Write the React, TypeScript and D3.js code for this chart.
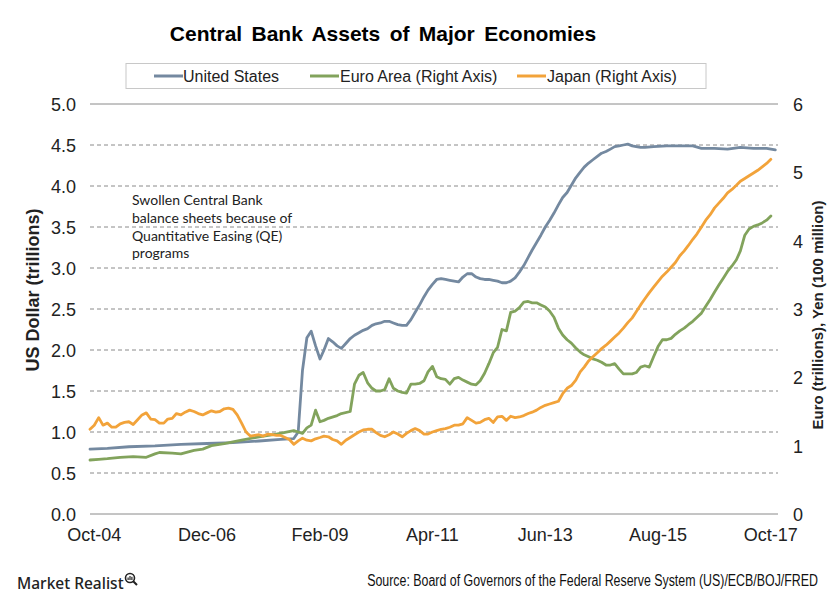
import React from "react";
import * as d3 from "d3";

const TITLE = "Central Bank Assets of Major Economies";
const SERIES_NAMES = ["United States", "Euro Area (Right Axis)", "Japan (Right Axis)"];
const SERIES_COLORS = ["#7489a0", "#82a35c", "#f2a33a"];
const LEFT_TICKS = [0, 0.5, 1, 1.5, 2, 2.5, 3, 3.5, 4, 4.5, 5];
const RIGHT_TICKS = [0, 1, 2, 3, 4, 5, 6];
const X_TICK_DATES = ["2004-10", "2006-12", "2009-02", "2011-04", "2013-06", "2015-08", "2017-10"];
const LEFT_TITLE = "US Dollar (trillions)";
const RIGHT_TITLE = "Euro (trillions), Yen (100 million)";
const NOTE_LINES = ["Swollen Central Bank", "balance sheets because of", "Quantitative Easing (QE)", "programs"];
const SOURCE = "Source: Board of Governors of the Federal Reserve System (US)/ECB/BOJ/FRED";
const BRAND = "Market Realist";

// United States (left axis, USD trillions)
const US: [string, number][] = [
  ["2004-09", 0.79], ["2005-01", 0.8], ["2005-06", 0.82], ["2005-12", 0.83], ["2006-06", 0.85],
  ["2006-12", 0.86], ["2007-06", 0.87], ["2007-12", 0.89], ["2008-05", 0.91], ["2008-08", 0.92],
  ["2008-09", 1.0], ["2008-10", 1.75], ["2008-11", 2.15], ["2008-12", 2.23], ["2009-01", 2.05],
  ["2009-02", 1.89], ["2009-03", 2.0], ["2009-04", 2.14], ["2009-05", 2.1], ["2009-06", 2.05],
  ["2009-07", 2.02], ["2009-08", 2.08], ["2009-09", 2.14], ["2009-10", 2.18], ["2009-11", 2.21],
  ["2009-12", 2.24], ["2010-01", 2.26], ["2010-02", 2.3], ["2010-03", 2.32], ["2010-04", 2.33],
  ["2010-05", 2.35], ["2010-06", 2.35], ["2010-07", 2.33], ["2010-08", 2.31], ["2010-09", 2.3],
  ["2010-10", 2.3], ["2010-11", 2.37], ["2010-12", 2.46], ["2011-01", 2.55], ["2011-02", 2.65],
  ["2011-03", 2.73], ["2011-04", 2.8], ["2011-05", 2.86], ["2011-06", 2.87], ["2011-07", 2.86],
  ["2011-08", 2.85], ["2011-09", 2.84], ["2011-10", 2.83], ["2011-11", 2.89], ["2011-12", 2.93],
  ["2012-01", 2.93], ["2012-02", 2.89], ["2012-03", 2.87], ["2012-04", 2.86], ["2012-05", 2.86],
  ["2012-06", 2.85], ["2012-07", 2.84], ["2012-08", 2.82], ["2012-09", 2.82], ["2012-10", 2.84],
  ["2012-11", 2.88], ["2012-12", 2.95], ["2013-01", 3.03], ["2013-02", 3.13], ["2013-03", 3.22],
  ["2013-04", 3.31], ["2013-05", 3.4], ["2013-06", 3.5], ["2013-07", 3.58], ["2013-08", 3.67],
  ["2013-09", 3.77], ["2013-10", 3.86], ["2013-11", 3.92], ["2013-12", 4.01], ["2014-01", 4.1],
  ["2014-02", 4.17], ["2014-03", 4.23], ["2014-04", 4.28], ["2014-05", 4.32], ["2014-06", 4.36],
  ["2014-07", 4.4], ["2014-08", 4.42], ["2014-09", 4.45], ["2014-10", 4.48], ["2014-11", 4.49],
  ["2014-12", 4.5], ["2015-01", 4.51], ["2015-02", 4.49], ["2015-03", 4.48], ["2015-04", 4.47],
  ["2015-05", 4.47], ["2015-07", 4.48], ["2015-10", 4.49], ["2016-01", 4.49], ["2016-04", 4.49],
  ["2016-06", 4.46], ["2016-09", 4.46], ["2016-12", 4.45], ["2017-03", 4.47], ["2017-06", 4.46],
  ["2017-09", 4.46], ["2017-11", 4.44],
];

// Euro Area (right axis, EUR trillions)
const EURO: [string, number][] = [
  ["2004-09", 0.79], ["2004-11", 0.8], ["2005-01", 0.81], ["2005-04", 0.83], ["2005-07", 0.84],
  ["2005-10", 0.83], ["2005-12", 0.88], ["2006-01", 0.9], ["2006-04", 0.89], ["2006-06", 0.88],
  ["2006-09", 0.93], ["2006-11", 0.95], ["2007-01", 1.0], ["2007-04", 1.03], ["2007-08", 1.08],
  ["2007-12", 1.13], ["2008-04", 1.17], ["2008-08", 1.22], ["2008-09", 1.2], ["2008-10", 1.18],
  ["2008-11", 1.26], ["2008-12", 1.3], ["2009-01", 1.52], ["2009-02", 1.35], ["2009-03", 1.37],
  ["2009-04", 1.4], ["2009-06", 1.44], ["2009-07", 1.47], ["2009-09", 1.5], ["2009-10", 1.9],
  ["2009-11", 2.03], ["2009-12", 2.07], ["2010-01", 1.92], ["2010-02", 1.84], ["2010-03", 1.8],
  ["2010-04", 1.8], ["2010-05", 1.82], ["2010-06", 1.98], ["2010-07", 1.84], ["2010-08", 1.8],
  ["2010-09", 1.78], ["2010-10", 1.77], ["2010-11", 1.9], ["2010-12", 1.9], ["2011-01", 1.91],
  ["2011-02", 1.95], ["2011-03", 2.08], ["2011-04", 2.16], ["2011-05", 2.01], ["2011-06", 1.98],
  ["2011-07", 1.97], ["2011-08", 1.9], ["2011-09", 1.98], ["2011-10", 2.0], ["2011-11", 1.96],
  ["2011-12", 1.93], ["2012-01", 1.9], ["2012-02", 1.89], ["2012-03", 1.95], ["2012-04", 2.06],
  ["2012-05", 2.2], ["2012-06", 2.36], ["2012-07", 2.44], ["2012-08", 2.7], ["2012-09", 2.68],
  ["2012-10", 2.95], ["2012-11", 2.97], ["2012-12", 3.02], ["2013-01", 3.1], ["2013-02", 3.11],
  ["2013-03", 3.09], ["2013-04", 3.09], ["2013-05", 3.06], ["2013-06", 3.03], ["2013-07", 2.97],
  ["2013-08", 2.88], ["2013-09", 2.72], ["2013-10", 2.62], ["2013-11", 2.55], ["2013-12", 2.5],
  ["2014-01", 2.43], ["2014-02", 2.37], ["2014-03", 2.33], ["2014-04", 2.3], ["2014-05", 2.27],
  ["2014-06", 2.25], ["2014-07", 2.22], ["2014-08", 2.18], ["2014-09", 2.18], ["2014-10", 2.2],
  ["2014-11", 2.12], ["2014-12", 2.05], ["2015-01", 2.05], ["2015-02", 2.05], ["2015-03", 2.07],
  ["2015-04", 2.15], ["2015-05", 2.17], ["2015-06", 2.15], ["2015-07", 2.3], ["2015-08", 2.45],
  ["2015-09", 2.55], ["2015-10", 2.55], ["2015-11", 2.57], ["2015-12", 2.63], ["2016-01", 2.68],
  ["2016-02", 2.72], ["2016-03", 2.77], ["2016-04", 2.82], ["2016-05", 2.88], ["2016-06", 2.94],
  ["2016-07", 3.04], ["2016-08", 3.14], ["2016-09", 3.25], ["2016-10", 3.35], ["2016-11", 3.45],
  ["2016-12", 3.55], ["2017-01", 3.63], ["2017-02", 3.72], ["2017-03", 3.85], ["2017-04", 4.08],
  ["2017-05", 4.17], ["2017-06", 4.21], ["2017-07", 4.23], ["2017-08", 4.26], ["2017-09", 4.3],
  ["2017-10", 4.36],
];

// Japan (right axis)
const JAPAN: [string, number][] = [
  ["2004-09", 1.24], ["2004-10", 1.3], ["2004-11", 1.41], ["2004-12", 1.3], ["2005-01", 1.33],
  ["2005-02", 1.27], ["2005-03", 1.27], ["2005-04", 1.32], ["2005-05", 1.34], ["2005-06", 1.35],
  ["2005-07", 1.31], ["2005-08", 1.38], ["2005-09", 1.45], ["2005-10", 1.48], ["2005-11", 1.39],
  ["2005-12", 1.38], ["2006-01", 1.33], ["2006-02", 1.33], ["2006-03", 1.39], ["2006-04", 1.4],
  ["2006-05", 1.47], ["2006-06", 1.45], ["2006-07", 1.49], ["2006-08", 1.52], ["2006-09", 1.5],
  ["2006-10", 1.47], ["2006-11", 1.45], ["2006-12", 1.48], ["2007-01", 1.51], ["2007-02", 1.49],
  ["2007-03", 1.5], ["2007-04", 1.54], ["2007-05", 1.55], ["2007-06", 1.53], ["2007-07", 1.45],
  ["2007-08", 1.33], ["2007-09", 1.2], ["2007-10", 1.14], ["2007-11", 1.15], ["2007-12", 1.16],
  ["2008-01", 1.14], ["2008-02", 1.17], ["2008-03", 1.16], ["2008-04", 1.15], ["2008-05", 1.15],
  ["2008-06", 1.12], ["2008-07", 1.09], ["2008-08", 1.02], ["2008-09", 1.07], ["2008-10", 1.11],
  ["2008-11", 1.08], ["2008-12", 1.07], ["2009-01", 1.1], ["2009-02", 1.12], ["2009-03", 1.14],
  ["2009-04", 1.13], ["2009-05", 1.09], ["2009-06", 1.07], ["2009-07", 1.02], ["2009-08", 1.08],
  ["2009-09", 1.12], ["2009-10", 1.16], ["2009-11", 1.2], ["2009-12", 1.23], ["2010-01", 1.24],
  ["2010-02", 1.24], ["2010-03", 1.19], ["2010-04", 1.15], ["2010-05", 1.13], ["2010-06", 1.16],
  ["2010-07", 1.2], ["2010-08", 1.17], ["2010-09", 1.13], ["2010-10", 1.18], ["2010-11", 1.22],
  ["2010-12", 1.25], ["2011-01", 1.22], ["2011-02", 1.17], ["2011-03", 1.17], ["2011-04", 1.2],
  ["2011-05", 1.22], ["2011-06", 1.24], ["2011-07", 1.25], ["2011-08", 1.27], ["2011-09", 1.3],
  ["2011-10", 1.3], ["2011-11", 1.32], ["2011-12", 1.41], ["2012-01", 1.37], ["2012-02", 1.33],
  ["2012-03", 1.34], ["2012-04", 1.38], ["2012-05", 1.4], ["2012-06", 1.34], ["2012-07", 1.42],
  ["2012-08", 1.43], ["2012-09", 1.37], ["2012-10", 1.43], ["2012-11", 1.41], ["2012-12", 1.42],
  ["2013-01", 1.44], ["2013-02", 1.47], ["2013-03", 1.49], ["2013-04", 1.52], ["2013-05", 1.56],
  ["2013-06", 1.59], ["2013-07", 1.61], ["2013-08", 1.63], ["2013-09", 1.65], ["2013-10", 1.76],
  ["2013-11", 1.84], ["2013-12", 1.88], ["2014-01", 1.96], ["2014-02", 2.08], ["2014-03", 2.15],
  ["2014-04", 2.24], ["2014-05", 2.3], ["2014-06", 2.36], ["2014-07", 2.42], ["2014-08", 2.47],
  ["2014-09", 2.53], ["2014-10", 2.59], ["2014-11", 2.65], ["2014-12", 2.72], ["2015-01", 2.8],
  ["2015-02", 2.87], ["2015-03", 2.96], ["2015-04", 3.06], ["2015-05", 3.15], ["2015-06", 3.24],
  ["2015-07", 3.32], ["2015-08", 3.4], ["2015-09", 3.48], ["2015-10", 3.54], ["2015-11", 3.61],
  ["2015-12", 3.68], ["2016-01", 3.78], ["2016-02", 3.85], ["2016-03", 3.93], ["2016-04", 4.02],
  ["2016-05", 4.1], ["2016-06", 4.2], ["2016-07", 4.3], ["2016-08", 4.38], ["2016-09", 4.48],
  ["2016-10", 4.55], ["2016-11", 4.62], ["2016-12", 4.7], ["2017-01", 4.75], ["2017-02", 4.81],
  ["2017-03", 4.87], ["2017-04", 4.91], ["2017-05", 4.95], ["2017-06", 4.99], ["2017-07", 5.03],
  ["2017-08", 5.08], ["2017-09", 5.13], ["2017-10", 5.19],
];

const parseMonth = d3.timeParse("%Y-%m");
const parseDay = d3.timeParse("%Y-%m-%d");
const fmtTick = d3.timeFormat("%b-%y");

export default function App() {
  const W = 840, H = 600;
  const left = 90, right = 778, top = 104, bottom = 514;
  const x = d3.scaleTime()
    .domain([parseDay("2004-09-01") as Date, parseDay("2017-11-20") as Date])
    .range([left, right]);
  const yL = d3.scaleLinear().domain([0, 5]).range([bottom, top]);
  const yR = d3.scaleLinear().domain([0, 6]).range([bottom, top]);

  const mkLine = (ys: d3.ScaleLinear<number, number>) =>
    d3.line<[string, number]>()
      .x((d) => x(parseMonth(d[0]) as Date))
      .y((d) => ys(d[1]));

  const series = [
    { data: US, y: yL, color: SERIES_COLORS[0] },
    { data: EURO, y: yR, color: SERIES_COLORS[1] },
    { data: JAPAN, y: yR, color: SERIES_COLORS[2] },
  ];

  const legendItems = [
    { lx: 154, tx: 183 },
    { lx: 310, tx: 340 },
    { lx: 517, tx: 547 },
  ];

  const sans = "'Liberation Sans', Arial, sans-serif";
  const gridColor = "#8a8a8a";

  return (
    <svg width={W} height={H} style={{ position: "absolute", left: 0, top: 0, background: "#fff" }}>
      <rect x={0} y={0} width={W} height={H} fill="#fff" />
      <text x={383} y={41} textAnchor="middle" fontFamily={sans} fontWeight="bold" fontSize={21} wordSpacing={3.5} fill="#000">
        {TITLE}
      </text>

      {/* legend */}
      <rect x={126} y={63.5} width={580} height={25} fill="#fff" stroke="#c8c8c8" strokeWidth={1} />
      {SERIES_NAMES.map((name, i) => (
        <g key={name}>
          <line x1={legendItems[i].lx} x2={legendItems[i].lx + 29} y1={76} y2={76} stroke={SERIES_COLORS[i]} strokeWidth={3} />
          <text x={legendItems[i].tx} y={81.5} fontFamily={sans} fontSize={16} fill="#222">{name}</text>
        </g>
      ))}

      {/* gridlines */}
      {LEFT_TICKS.map((t) => (
        <line key={"g" + t} x1={left} x2={right} y1={yL(t)} y2={yL(t)}
          stroke={gridColor} strokeWidth={1}
          strokeDasharray={t === 0 || t === 5 ? undefined : "4 3"} />
      ))}

      {/* left tick labels */}
      {LEFT_TICKS.map((t) => (
        <text key={"l" + t} x={76} y={yL(t) + 7} textAnchor="end" fontFamily={sans} fontSize={18} fill="#222">
          {d3.format(".1f")(t)}
        </text>
      ))}
      {/* right tick labels */}
      {RIGHT_TICKS.map((t) => (
        <text key={"r" + t} x={793} y={yR(t) + 7} textAnchor="start" fontFamily={sans} fontSize={18} fill="#222">
          {t}
        </text>
      ))}
      {/* x tick labels */}
      {X_TICK_DATES.map((d) => (
        <text key={d} x={x(parseMonth(d) as Date)} y={541} textAnchor="middle" fontFamily={sans} fontSize={18} fill="#222">
          {fmtTick(parseMonth(d) as Date)}
        </text>
      ))}

      {/* axis titles */}
      <text transform={`translate(39,${290}) rotate(-90)`} textAnchor="middle" fontFamily={sans} fontWeight="bold" fontSize={18} fill="#222">
        {LEFT_TITLE}
      </text>
      <text transform={`translate(823,${315}) rotate(-90)`} textAnchor="middle" fontFamily={sans} fontWeight="bold" fontSize={15} fill="#222">
        {RIGHT_TITLE}
      </text>

      {/* annotation */}
      {NOTE_LINES.map((l, i) => (
        <text key={l} x={132} y={205 + i * 17.8} fontFamily="Lato, 'Open Sans', sans-serif" fontSize={14} fill="#222">{l}</text>
      ))}

      {/* series */}
      {series.map((s, i) => (
        <path key={i} d={mkLine(s.y)(s.data) || ""} fill="none" stroke={s.color} strokeWidth={2.8}
          strokeLinejoin="round" strokeLinecap="round" />
      ))}

      {/* footer */}
      <text x={17} y={589} fontFamily="'Noto Sans', Lato, sans-serif" fontWeight={500} fontSize={15.5} fill="#222">{BRAND}</text>
      <g transform="translate(130,578)">
        <circle cx={0} cy={0} r={4.5} fill="none" stroke="#222" strokeWidth={1.6} />
        <line x1={3.2} y1={3.2} x2={7} y2={7} stroke="#222" strokeWidth={2} />
        <rect x={-2.5} y={-0.5} width={1.2} height={2.5} fill="#222" />
        <rect x={-0.6} y={-2} width={1.2} height={4} fill="#222" />
        <rect x={1.3} y={-1.2} width={1.2} height={3.2} fill="#222" />
      </g>
      <g transform="translate(818,586) scale(0.775,1)">
        <text x={0} y={0} textAnchor="end" fontFamily={sans} fontSize={16} fill="#111">
          {SOURCE}
        </text>
      </g>
    </svg>
  );
}
